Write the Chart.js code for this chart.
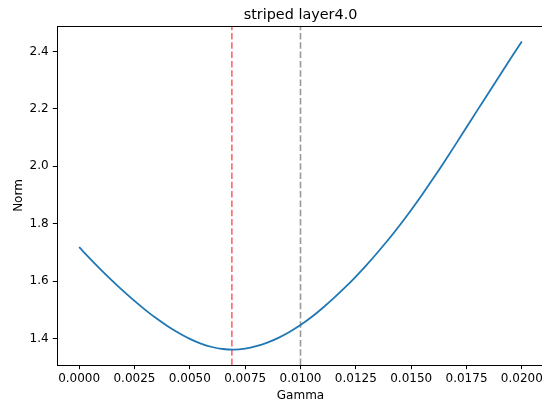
<!DOCTYPE html>
<html>
<head>
<meta charset="utf-8">
<script src="https://cdn.jsdelivr.net/npm/chart.js@4"></script>
<style>
  html, body { margin: 0; padding: 0; background: #fff; overflow: hidden; }
  #wrap { width: 542px; height: 403px; overflow: hidden; }
  #wrap > div { width: 560px; height: 403px; }
</style>
</head>
<body>
<div id="wrap"><div><canvas id="normChart" width="560" height="403"></canvas></div></div>
<script>
// values
const gamma = [0, 0.0005, 0.001, 0.0015, 0.002, 0.0025, 0.003, 0.0035, 0.004, 0.0045,
               0.005, 0.0055, 0.006, 0.0065, 0.007, 0.0075, 0.008, 0.0085, 0.009, 0.0095,
               0.01, 0.0105, 0.011, 0.0115, 0.012, 0.0125, 0.013, 0.0135, 0.014, 0.0145,
               0.015, 0.0155, 0.016, 0.0165, 0.017, 0.0175, 0.018, 0.0185, 0.019, 0.0195, 0.02];
const norm = [1.718, 1.6775, 1.6385, 1.601, 1.565, 1.531, 1.499, 1.4695, 1.443, 1.4195,
              1.399, 1.3825, 1.3705, 1.3635, 1.3615, 1.365, 1.3735, 1.386, 1.4025, 1.423,
              1.447, 1.475, 1.5065, 1.5405, 1.577, 1.616, 1.6575, 1.7015, 1.7475, 1.7965,
              1.848, 1.902, 1.958, 2.016, 2.0755, 2.136, 2.1965, 2.2565, 2.3165, 2.376, 2.435];
const bestGamma = 0.0069;   // red dashed line
const refGamma = 0.01;      // grey dashed line

const xTicks = [0, 0.0025, 0.005, 0.0075, 0.01, 0.0125, 0.015, 0.0175, 0.02];
const yTicks = [1.4, 1.6, 1.8, 2.0, 2.2, 2.4];
const xLimits = [-0.001, 0.021];
const yLimits = [1.3078, 2.4887];

Chart.defaults.font.family = "'DejaVu Sans', sans-serif";
Chart.defaults.color = '#000';

// matplotlib draws the box all around the axes
const frame = {
    id: 'frame',
    afterDraw(chart) {
        const { ctx, chartArea: a } = chart;
        const top = Math.round(a.top) + 0.5;
        const right = Math.round(a.right) - 0.5;
        ctx.save();
        ctx.strokeStyle = '#000';
        ctx.lineWidth = 1;
        ctx.beginPath();
        ctx.moveTo(a.left, top);
        ctx.lineTo(a.right, top);
        ctx.moveTo(right, a.top);
        ctx.lineTo(right, a.bottom);
        ctx.stroke();
        ctx.restore();
    }
};

const ctx = document.getElementById('normChart').getContext('2d');
new Chart(ctx, {
    type: 'line',
    data: {
        datasets: [
            {
                data: gamma.map((g, i) => ({ x: g, y: norm[i] })),
                borderColor: '#1f77b4',
                borderWidth: 1.8,
                pointRadius: 0,
                cubicInterpolationMode: 'monotone',
                fill: false,
                order: 0
            },
            {
                data: [{ x: bestGamma, y: yLimits[0] }, { x: bestGamma, y: yLimits[1] }],
                borderColor: 'rgba(255, 0, 0, 0.6)',
                borderWidth: 1.6,
                borderDash: [6.5, 2.8],
                pointRadius: 0,
                order: 1
            },
            {
                data: [{ x: refGamma, y: yLimits[0] }, { x: refGamma, y: yLimits[1] }],
                borderColor: 'rgba(128, 128, 128, 0.8)',
                borderWidth: 1.6,
                borderDash: [6.5, 2.8],
                pointRadius: 0,
                order: 2
            }
        ]
    },
    options: {
        responsive: false,
        animation: false,
        layout: { padding: { left: 0, right: 16, top: 0, bottom: 0 } },
        plugins: {
            legend: { display: false },
            tooltip: { enabled: false },
            title: {
                display: true,
                text: 'striped layer4.0',
                fullSize: false,
                color: '#000',
                font: { size: 14.4, weight: 'normal' },
                padding: { top: 6.5, bottom: 2.22 }
            }
        },
        scales: {
            x: {
                type: 'linear',
                min: xLimits[0],
                max: xLimits[1],
                afterBuildTicks: s => { s.ticks = xTicks.map(v => ({ value: v })); },
                afterFit: s => { s.height = 38; },
                ticks: {
                    callback: v => v.toFixed(4),
                    font: { size: 12 },
                    padding: 2.6,
                    maxRotation: 0,
                    autoSkip: false
                },
                grid: { drawOnChartArea: false, drawTicks: true, tickLength: 4.2, color: '#000', tickWidth: 1 },
                border: { display: true, color: '#000', width: 1 },
                title: { display: true, text: 'Gamma', font: { size: 12 }, padding: { top: 0, bottom: 0 } }
            },
            y: {
                min: yLimits[0],
                max: yLimits[1],
                afterBuildTicks: s => { s.ticks = yTicks.map(v => ({ value: v })); },
                afterFit: s => { s.width = 57; },
                ticks: {
                    callback: v => v.toFixed(1),
                    font: { size: 12 },
                    padding: 4.2
                },
                grid: { drawOnChartArea: false, drawTicks: true, tickLength: 4.2, color: '#000', tickWidth: 1 },
                border: { display: true, color: '#000', width: 1 },
                title: { display: true, text: 'Norm', font: { size: 12 }, padding: { top: 11.3, bottom: 0 } }
            }
        }
    },
    plugins: [frame]
});
</script>
</body>
</html>
